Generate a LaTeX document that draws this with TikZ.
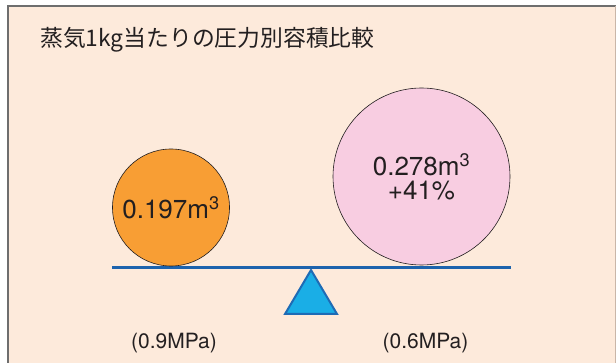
\documentclass[tikz,border=0pt]{standalone}
\usepackage{fontspec}
\setmainfont{TeX Gyre Heros}
\newfontfamily\jpfont{Noto Sans CJK JP}
\definecolor{panelbg}{HTML}{FDEADB}
\definecolor{frameline}{HTML}{6E6E6E}
\definecolor{framelight}{HTML}{C9B6A8}
\definecolor{orangefill}{HTML}{F89E34}
\definecolor{pinkfill}{HTML}{F8CDE1}
\definecolor{beamblue}{HTML}{1D63AD}
\definecolor{trifill}{HTML}{1AAEE6}
\definecolor{triline}{HTML}{1E6BB5}
\definecolor{txt}{HTML}{231F20}
\tikzset{
  ball/.style={circle, draw=txt, line width=0.6pt, inner sep=0pt, text=txt, align=center,
    font=\fontsize{26}{26}\selectfont},
  presslabel/.style={text=txt, font=\fontsize{21}{21}\selectfont, inner sep=0pt},
  beamline/.style={draw=beamblue, line width=3pt},
  fulcrum/.style={fill=trifill, draw=triline, line width=2pt, line join=miter},
}
\begin{document}
\begin{tikzpicture}[x=1pt,y=-1pt]
\useasboundingbox (0,0) rectangle (616,363);
\fill[white] (0,0) rectangle (616,363);
\fill[panelbg] (8,6) rectangle (615,363);
\draw[frameline, line width=1.2pt] (8,363) -- (8,6) -- (616,6);
\draw[framelight, line width=1pt] (615,6) -- (615,363);
\node[anchor=base west, inner sep=0pt, text=txt, font=\jpfont\fontsize{22.8}{22.8}\selectfont] (title) at (40,47) {蒸気1kg当たりの圧力別容積比較};
% beam
\coordinate (beamL) at (112,268);
\coordinate (beamR) at (511,268);
% fulcrum
\coordinate (apex) at (311,270);
\coordinate (baseL) at (285,314);
\coordinate (baseR) at (337,314);
\draw[fulcrum] (apex) -- (baseL) -- (baseR) -- cycle;
\draw[beamline] (beamL) -- (beamR);
% balls
\node[ball, fill=orangefill, minimum size=117pt] (small) at (171,207.5) {0.197m\textsuperscript{3}};
\node[ball, fill=pinkfill, minimum size=177pt] (big) at (421.5,176.5) {0.278m\textsuperscript{3}\\[-2pt]+41\%};
% labels
\node[presslabel] (p1) at (174,343.5) {(0.9MPa)};
\node[presslabel] (p2) at (425.5,343.5) {(0.6MPa)};
\end{tikzpicture}
\end{document}
